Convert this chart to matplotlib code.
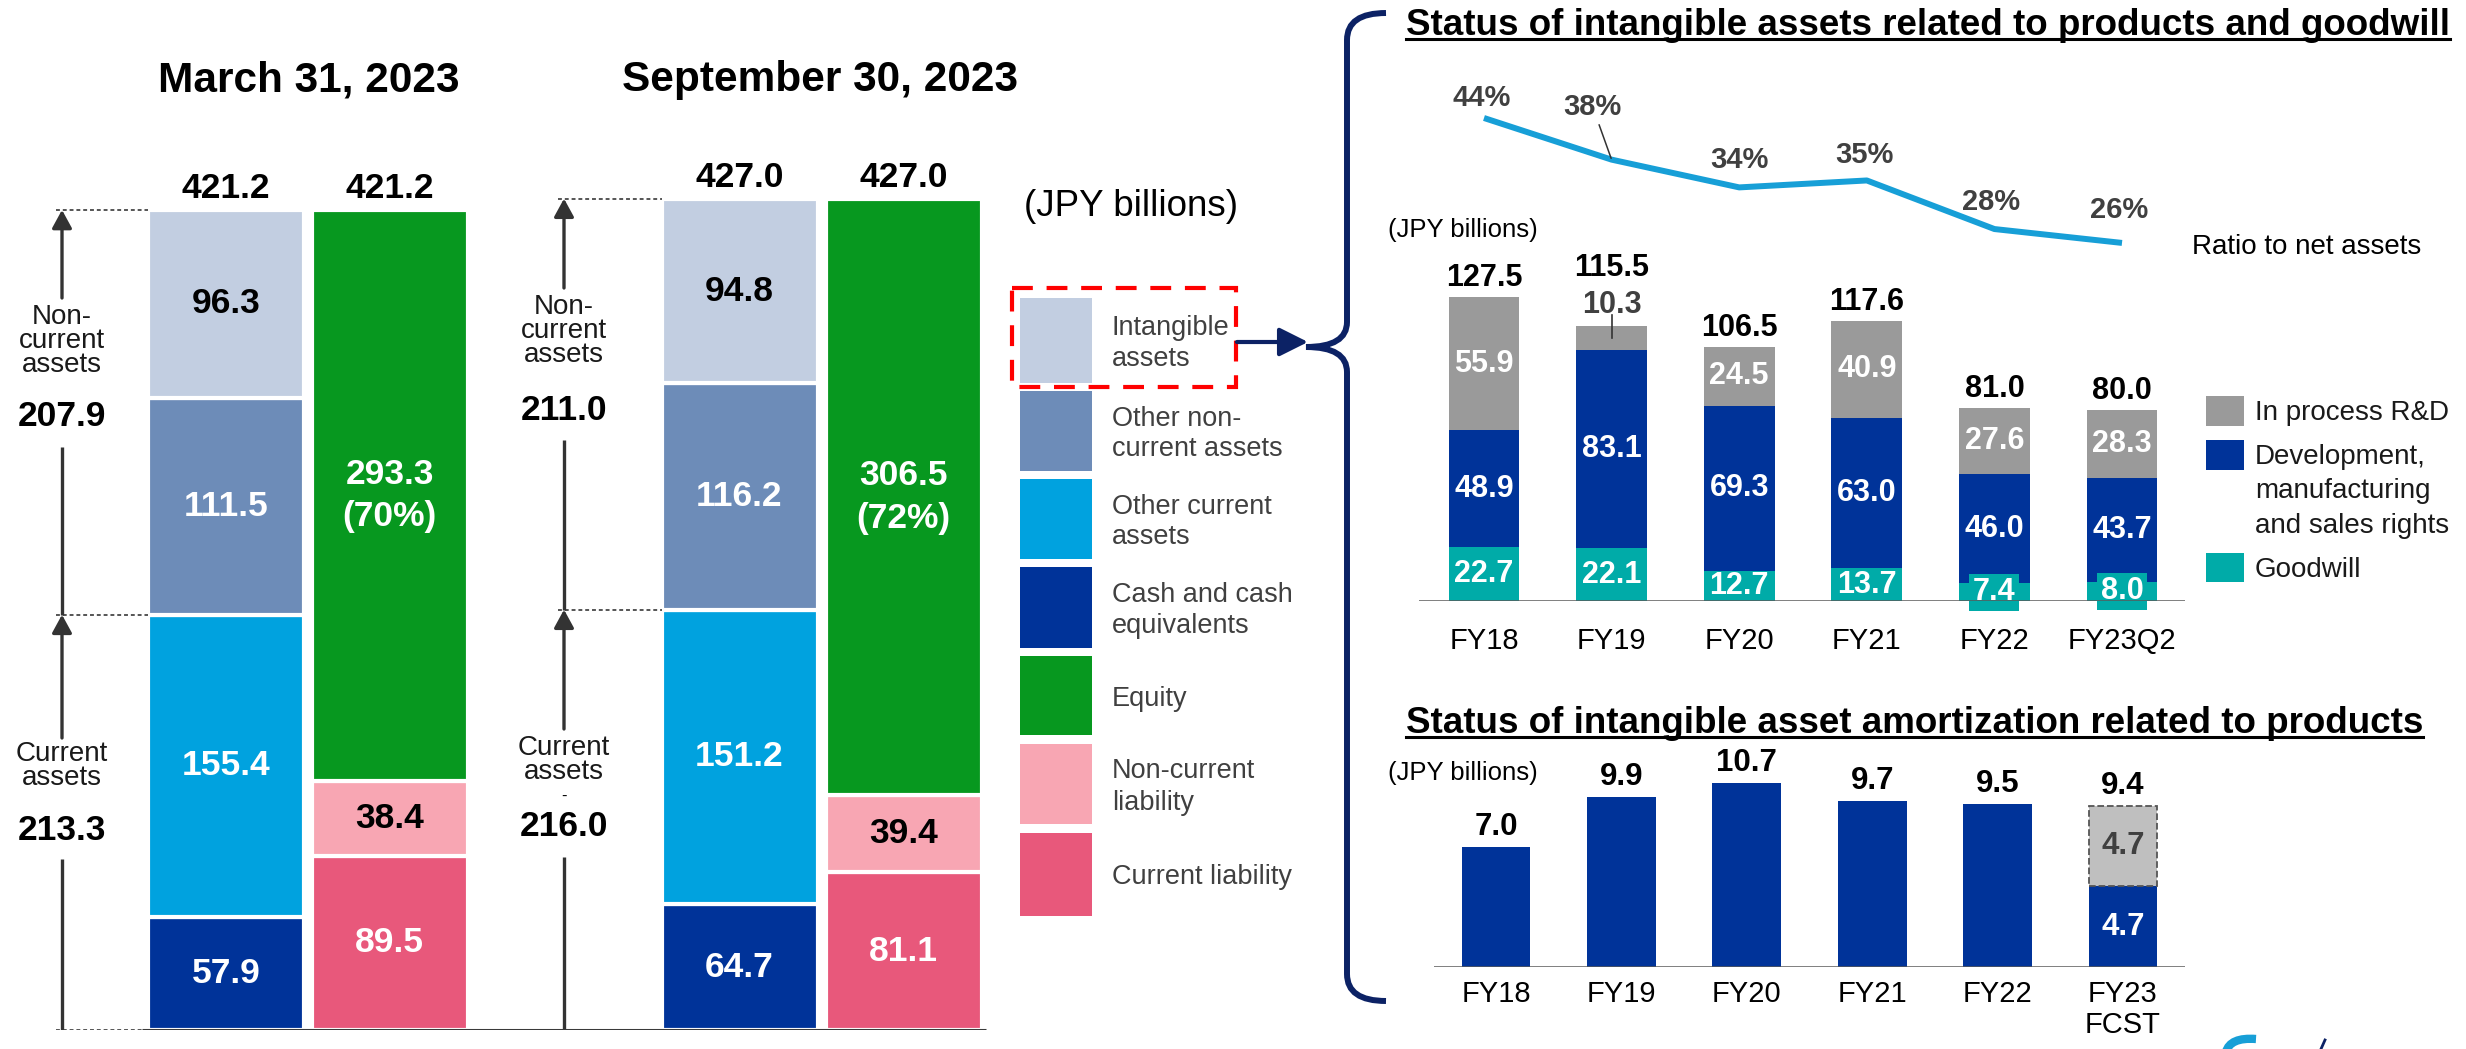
import matplotlib
matplotlib.use("Agg")
import matplotlib.pyplot as plt
import matplotlib.transforms as mtransforms
from matplotlib.patches import Rectangle, PathPatch, FancyArrowPatch
from matplotlib.path import Path
from matplotlib.lines import Line2D

plt.rcParams['font.family'] = ['Liberation Sans', 'DejaVu Sans']

# --- balance sheet (JPY billions) ---
bs_dates = ['March 31, 2023', 'September 30, 2023']
cash = [57.9, 64.7]
other_current = [155.4, 151.2]
other_noncurrent = [111.5, 116.2]
intangible = [96.3, 94.8]
current_liab = [89.5, 81.1]
noncurrent_liab = [38.4, 39.4]
equity = [293.3, 306.5]
equity_ratio = ['70%', '72%']
total_assets = [421.2, 427.0]
noncurrent_assets = [207.9, 211.0]
current_assets = [213.3, 216.0]
bs_legend = ['Intangible\nassets', 'Other non-\ncurrent assets', 'Other current\nassets',
             'Cash and cash\nequivalents', 'Equity', 'Non-current\nliability', 'Current liability']

# --- intangible assets related to products and goodwill ---
fy = ['FY18', 'FY19', 'FY20', 'FY21', 'FY22', 'FY23Q2']
goodwill = [22.7, 22.1, 12.7, 13.7, 7.4, 8.0]
dev_rights = [48.9, 83.1, 69.3, 63.0, 46.0, 43.7]
ipr_d = [55.9, 10.3, 24.5, 40.9, 27.6, 28.3]
intang_total = [127.5, 115.5, 106.5, 117.6, 81.0, 80.0]
ratio_net_assets = [44, 38, 34, 35, 28, 26]
intang_legend = ['In process R&D', 'Development,\nmanufacturing\nand sales rights', 'Goodwill']

# --- amortization ---
amort_years = ['FY18', 'FY19', 'FY20', 'FY21', 'FY22', 'FY23\nFCST']
amort_actual = [7.0, 9.9, 10.7, 9.7, 9.5, 4.7]
amort_fcst_rest = [0, 0, 0, 0, 0, 4.7]
amort_total = [7.0, 9.9, 10.7, 9.7, 9.5, 9.4]

# colours
C_CASH, C_OCUR, C_ONC, C_INT = '#003399', '#00A2DF', '#6D8CB8', '#C2CEE1'
C_EQ, C_NCL, C_CL = '#07981F', '#F8A6B3', '#E8587B'
C_GW, C_DEV, C_IPR = '#00ABA8', '#003399', '#9A9A9A'
C_LINE, NAVY, GREY_TXT = '#179FD7', '#0C2265', '#404040'

W, H = 2466, 1049
fig = plt.figure(figsize=(W / 100, H / 100), dpi=100)
PX = mtransforms.Affine2D().scale(1, -1).translate(0, H)   # pixel coords, origin top-left
PT = 0.72  # px -> points

# ================= left: balance sheet =================
BASE_L, K_L = 1030, 1.947
axL = fig.add_axes([0, 1 - BASE_L / H, 1000 / W, BASE_L / H])
axL.set_xlim(0, 1000)
axL.set_ylim(0, BASE_L / K_L)
axL.axis('off')


def lv(py):
    return (BASE_L - py) / K_L


asset_x = [226, 739.5]
liab_x = [389.5, 903.5]
BW = 156

asset_layers = [(cash, C_CASH, 'white'), (other_current, C_OCUR, 'white'),
                (other_noncurrent, C_ONC, 'white'), (intangible, C_INT, 'black')]
eq_labels = [f'{v:.1f}\n({r})' for v, r in zip(equity, equity_ratio)]
liab_layers = [(current_liab, C_CL, 'white'), (noncurrent_liab, C_NCL, 'black'), (equity, C_EQ, 'white')]

for xs, layers in [(asset_x, asset_layers), (liab_x, liab_layers)]:
    bottom = [0.0, 0.0]
    for vals, col, tcol in layers:
        axL.bar(xs, vals, width=BW, bottom=bottom, color=col, edgecolor='white', linewidth=3)
        for j in range(2):
            lab = eq_labels[j] if vals is equity else f'{vals[j]:.1f}'
            axL.text(xs[j], bottom[j] + vals[j] / 2, lab, ha='center', va='center',
                     color=tcol, fontsize=25.5, weight='bold', linespacing=1.35)
        bottom = [b + v for b, v in zip(bottom, vals)]
    for j in range(2):
        axL.annotate(f'{total_assets[j]:.1f}', xy=(xs[j], total_assets[j]), xytext=(0, 12 * PT),
                     textcoords='offset points', ha='center', va='baseline',
                     fontsize=25.5, weight='bold')

axL.plot([142, 986], [0, 0], color='#3a3a3a', lw=2.2, zorder=5, solid_capstyle='butt')

arrow_x = [62, 564]
upper_gap = [(298, 447), (288, 440)]
lower_gap = [(738, 859), (729, 857)]
nc_lab_y, nc_val_y = [341, 331], [416, 410]
cu_lab_y, cu_val_y = [766, 760], [830, 826]
AP = dict(arrowstyle='-|>,head_length=0.55,head_width=0.3', color='#333333', lw=2.4,
          shrinkA=0, shrinkB=0, mutation_scale=20)
for i, x in enumerate(arrow_x):
    boundary = cash[i] + other_current[i]
    xr = asset_x[i] - BW / 2
    for yy in (total_assets[i], boundary, 0):
        axL.plot([x - 6, xr], [yy, yy], ls=(0, (2, 1.5)), color='#555555', lw=1.4)
    axL.annotate('', xy=(x, total_assets[i]), xytext=(x, lv(upper_gap[i][0])), arrowprops=AP)
    axL.plot([x, x], [lv(upper_gap[i][1]), boundary], color='#333333', lw=2.4, solid_capstyle='butt')
    axL.annotate('', xy=(x, boundary), xytext=(x, lv(lower_gap[i][0])), arrowprops=AP)
    axL.plot([x, x], [0, lv(lower_gap[i][1])], color='#333333', lw=2.4, solid_capstyle='butt')
    axL.text(x, lv(nc_lab_y[i]), 'Non-\ncurrent\nassets', ha='center', va='center',
             fontsize=20, linespacing=0.88, color='#1a1a1a')
    axL.text(x, lv(nc_val_y[i]), f'{noncurrent_assets[i]:.1f}', ha='center', va='center',
             fontsize=25.5, weight='bold')
    axL.text(x, lv(cu_lab_y[i]), 'Current\nassets', ha='center', va='center',
             fontsize=20, linespacing=0.88, color='#1a1a1a')
    axL.text(x, lv(cu_val_y[i]), f'{current_assets[i]:.1f}', ha='center', va='center',
             fontsize=25.5, weight='bold')
axL.text(arrow_x[1], lv(796), '-', ha='center', va='center', fontsize=12)

for x, d in zip([309, 820], bs_dates):
    fig.text(x, 91, d, transform=PX, ha='center', va='baseline', fontsize=30.5, weight='bold')

# legend of the balance sheet
fig.text(1024, 207, '(JPY billions)', transform=PX, ha='left', va='center', fontsize=26.5)
leg_cols = [C_INT, C_ONC, C_OCUR, C_CASH, C_EQ, C_NCL, C_CL]
leg_top = [298, 391, 479, 567, 656, 744, 833]
leg_h = [85, 80, 80, 81, 79, 80, 83]
for lab, col, t, h in zip(bs_legend, leg_cols, leg_top, leg_h):
    fig.add_artist(Rectangle((1020, t), 72, h, transform=PX, color=col, lw=0))
    fig.text(1112, t + h / 2 + 3, lab, transform=PX, ha='left', va='center',
             fontsize=19.5, color=GREY_TXT, linespacing=1.25)
fig.add_artist(Rectangle((1012, 288), 224, 99, transform=PX, fill=False, edgecolor='#FF0000',
                         lw=3, ls=(0, (5, 3.3))))
fig.add_artist(FancyArrowPatch((1237, 342), (1308, 342), transform=PX, color=NAVY, lw=3,
                               arrowstyle='-|>,head_length=0.7,head_width=0.35', mutation_scale=25,
                               shrinkA=0, shrinkB=0))

# curly brace
M, C3, L = Path.MOVETO, Path.CURVE3, Path.LINETO
verts = [(1386, 13), (1347, 13), (1347, 40), (1347, 322), (1347, 347), (1306, 347),
         (1347, 347), (1347, 372), (1347, 974), (1347, 1001), (1386, 1001)]
codes = [M, C3, C3, L, C3, C3, C3, C3, L, C3, C3]
fig.add_artist(PathPatch(Path(verts, codes), transform=PX, fill=False, edgecolor=NAVY,
                         lw=4.3, capstyle='butt'))


def underlined(x, y, s):
    t = fig.text(x, y, s, transform=PX, ha='left', va='baseline', fontsize=26.5, weight='bold')
    bb = t.get_window_extent(renderer=fig.canvas.get_renderer())
    fig.add_artist(Line2D([bb.x0, bb.x1], [H - y - 4, H - y - 4], color='black', lw=2.2,
                          transform=mtransforms.IdentityTransform()))


# ================= right top: intangible assets =================
TOP_BASE, TOP_K, TOP_X0, TOP_DX = 601, 2.384, 1484, 127.6
ax_t = fig.add_axes([1419 / W, 1 - TOP_BASE / H, (2185 - 1419) / W, (TOP_BASE - 60) / H])
ax_t.set_xlim((1419 - TOP_X0) / TOP_DX, (2185 - TOP_X0) / TOP_DX)
ax_t.set_ylim(0, (TOP_BASE - 60) / TOP_K)
xs = list(range(len(fy)))
bottom = [0.0] * len(fy)
for vals, col in [(goodwill, C_GW), (dev_rights, C_DEV), (ipr_d, C_IPR)]:
    ax_t.bar(xs, vals, width=0.556, bottom=bottom, color=col, lw=0)
    for i in xs:
        v, b = vals[i], bottom[i]
        if vals is ipr_d and v < 15:
            top = b + v
            ax_t.annotate(f'{v:.1f}', xy=(i, top), xytext=(0, 13 * PT), textcoords='offset points',
                          ha='center', va='baseline', fontsize=22, weight='bold', color=GREY_TXT)
            ax_t.plot([i, i], [b + v / 2, top + 11 / TOP_K], color='#333333', lw=1.2)
            continue
        box = None
        if vals is goodwill and v < 10:
            box = dict(boxstyle='square,pad=0.12', fc=C_GW, ec='none')
        ax_t.text(i, b + v / 2, f'{v:.1f}', ha='center', va='center', color='white',
                  fontsize=22, weight='bold', bbox=box, zorder=6)
    bottom = [b + v for b, v in zip(bottom, vals)]
for i in xs:
    off = 50 if ipr_d[i] < 15 else 11
    ax_t.annotate(f'{intang_total[i]:.1f}', xy=(i, intang_total[i]), xytext=(0, off * PT),
                  textcoords='offset points', ha='center', va='baseline', fontsize=22, weight='bold')
ax_t.axhline(0, color='#595959', lw=1.8, zorder=7)
ax_t.set_xticks(xs, fy, fontsize=21)
ax_t.tick_params(axis='x', length=0, pad=18.5)
ax_t.set_yticks([])
for s in ax_t.spines.values():
    s.set_visible(False)

ax_r = ax_t.twinx()
ax_r.set_ylim(44 - (TOP_BASE - 118) / 6.94, 44 + (118 - 60) / 6.94)
ax_r.plot(xs, ratio_net_assets, color=C_LINE, lw=4.3, solid_capstyle='butt')
ax_r.set_yticks([])
for s in ax_r.spines.values():
    s.set_visible(False)
pct_off = [(-2, 12), (-19, 45), (0, 19), (-2, 17), (-3, 19), (-3, 25)]
for i, (dx, dy) in enumerate(pct_off):
    ap = dict(arrowstyle='-', color='#333333', lw=1.1, shrinkA=1, shrinkB=1) if dy > 30 else None
    ax_r.annotate(f'{ratio_net_assets[i]}%', xy=(i, ratio_net_assets[i]), xytext=(dx * PT, dy * PT),
                  textcoords='offset points', ha='center', va='baseline', fontsize=21,
                  weight='bold', color=GREY_TXT, arrowprops=ap)

underlined(1406, 35, 'Status of intangible assets related to products and goodwill')
fig.text(1388, 230, '(JPY billions)', transform=PX, ha='left', va='center', fontsize=18.5)
fig.text(2192, 247, 'Ratio to net assets', transform=PX, ha='left', va='center', fontsize=20)
for lab, col, t, h in zip(intang_legend, [C_IPR, C_DEV, C_GW], [396, 440, 553], [30, 30, 29]):
    fig.add_artist(Rectangle((2206, t), 38, h, transform=PX, color=col, lw=0))
    fig.text(2255, t + 4, lab, transform=PX, ha='left', va='top', fontsize=20,
             linespacing=1.42, color='#1a1a1a')

# ================= right bottom: amortization =================
BOT_BASE, BOT_K, BOT_X0, BOT_DX = 967, 17.15, 1496, 125.4
ax_b = fig.add_axes([1434 / W, 1 - BOT_BASE / H, (2185 - 1434) / W, (BOT_BASE - 760) / H])
ax_b.set_xlim((1434 - BOT_X0) / BOT_DX, (2185 - BOT_X0) / BOT_DX)
ax_b.set_ylim(0, (BOT_BASE - 760) / BOT_K)
ax_b.bar(xs, amort_actual, width=0.55, color=C_DEV, lw=0)
ax_b.bar(xs, amort_fcst_rest, width=0.55, bottom=amort_actual, color='#BFBFBF',
         edgecolor=['none'] * 5 + ['#555555'], lw=1.3, ls='--')
for i in xs:
    ax_b.annotate(f'{amort_total[i]:.1f}', xy=(i, amort_total[i]), xytext=(0, 12 * PT),
                  textcoords='offset points', ha='center', va='baseline', fontsize=22.5, weight='bold')
    if amort_fcst_rest[i] > 0:
        ax_b.text(i, amort_actual[i] / 2, f'{amort_actual[i]:.1f}', ha='center', va='center',
                  color='white', fontsize=22.5, weight='bold')
        ax_b.text(i, amort_actual[i] + amort_fcst_rest[i] / 2, f'{amort_fcst_rest[i]:.1f}',
                  ha='center', va='center', color=GREY_TXT, fontsize=22.5, weight='bold')
ax_b.axhline(0, color='#595959', lw=1.8, zorder=7)
ax_b.set_xticks(xs, amort_years, fontsize=21, linespacing=1.17)
ax_b.tick_params(axis='x', length=0, pad=9)
ax_b.set_yticks([])
for s in ax_b.spines.values():
    s.set_visible(False)

underlined(1406, 733, 'Status of intangible asset amortization related to products')
fig.text(1388, 773, '(JPY billions)', transform=PX, ha='left', va='center', fontsize=18.5)

# logo fragment cut by the bottom edge
hook = Path([(2226, 1052), (2230, 1037), (2256, 1039)], [M, C3, C3])
fig.add_artist(PathPatch(hook, transform=PX, fill=False, edgecolor=C_LINE, lw=6, capstyle='butt'))
fig.add_artist(Line2D([2321, 2325], [1049, 1040], transform=PX, color=NAVY, lw=2))

fig.savefig('out.png', dpi=100)
